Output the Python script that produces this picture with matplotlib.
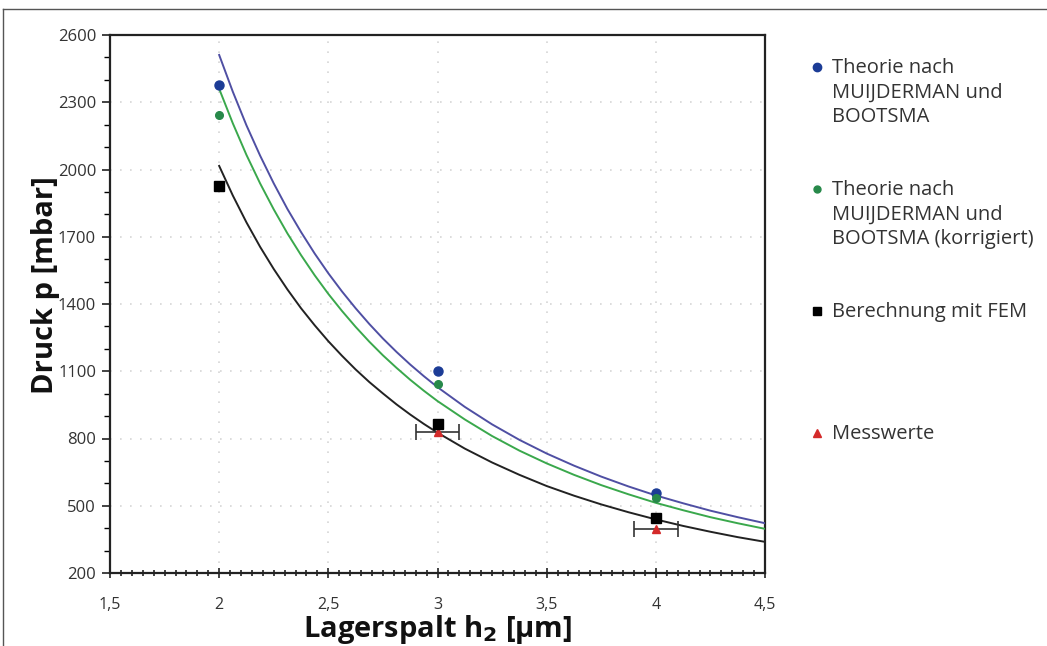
import matplotlib
matplotlib.use("Agg")
import matplotlib.pyplot as plt
from matplotlib.lines import Line2D
from matplotlib.ticker import MultipleLocator, FixedLocator, FuncFormatter

# ---- data ----
h_points = [2.0, 3.0, 4.0]
p_theorie = [2375, 1100, 558]
p_theorie_korr = [2243, 1045, 533]
p_fem = [1925, 865, 447]
h_mess = [3.0, 4.0]
p_mess = [830, 398]
h_mess_err = [0.1, 0.1]

y_ticks = [200, 500, 800, 1100, 1400, 1700, 2000, 2300, 2600]

h_curve = [2.0, 2.0625, 2.125, 2.1875, 2.25, 2.3125, 2.375, 2.4375, 2.5, 2.5625,
           2.625, 2.6875, 2.75, 2.8125, 2.875, 2.9375, 3.0, 3.125, 3.25,
           3.375, 3.5, 3.625, 3.75, 3.875, 4.0, 4.125, 4.25, 4.375, 4.5]
curve_theorie = [2511, 2347, 2197, 2062, 1938, 1824, 1721, 1625, 1537, 1456,
                 1381, 1311, 1246, 1186, 1130, 1078, 1029, 941, 863,
                 794, 733, 679, 630, 586, 546, 511, 478, 449, 422]
curve_theorie_korr = [2360, 2206, 2065, 1938, 1822, 1715, 1618, 1528, 1445, 1369,
                      1298, 1232, 1171, 1115, 1062, 1013, 967, 885, 811,
                      746, 689, 638, 592, 551, 513, 480, 449, 422, 397]
curve_fem = [2016, 1884, 1764, 1655, 1556, 1465, 1381, 1305, 1234, 1169,
             1108, 1052, 1001, 952, 907, 865, 826, 755, 693,
             638, 588, 545, 506, 471, 439, 410, 384, 360, 339]

legend_labels = ["Theorie nach\nMUIJDERMAN und\nBOOTSMA",
                 "Theorie nach\nMUIJDERMAN und\nBOOTSMA (korrigiert)",
                 "Berechnung mit FEM",
                 "Messwerte"]

plt.rcParams['font.family'] = ['Open Sans', 'DejaVu Sans']

fig = plt.figure(figsize=(10.47, 6.46), dpi=100)
ax = fig.add_axes([110/1047, 1-573/646, 655/1047, 538/646])

c_blue_line = '#4f4fa3'
c_green_line = '#3aa84c'
c_black_line = '#222222'
c_blue = '#1c3c96'
c_green = '#27894a'
c_red = '#d42a2a'

ax.plot(h_curve, curve_theorie, color=c_blue_line, lw=1.4, zorder=3)
ax.plot(h_curve, curve_theorie_korr, color=c_green_line, lw=1.4, zorder=3)
ax.plot(h_curve, curve_fem, color=c_black_line, lw=1.4, zorder=3)

ax.plot(h_points, p_theorie, 'o', color=c_blue, ms=6.5, zorder=5)
ax.plot(h_points, p_theorie_korr, 'o', color=c_green, ms=5.5, zorder=5)
ax.errorbar(h_mess, p_mess, xerr=h_mess_err, fmt='^', color=c_red, ms=6,
            ecolor='#333333', elinewidth=1.2, capsize=6, capthick=1.2, zorder=4)
ax.plot(h_points, p_fem, 's', color='black', ms=7, zorder=6)

ax.set_xlim(1.5, 4.5)
ax.set_ylim(200, 2600)
ax.xaxis.set_major_locator(MultipleLocator(0.5))
ax.xaxis.set_minor_locator(MultipleLocator(0.05))
ax.yaxis.set_major_locator(FixedLocator(y_ticks))
ax.yaxis.set_minor_locator(MultipleLocator(100))
ax.xaxis.set_major_formatter(FuncFormatter(lambda v, p: ('%g' % v).replace('.', ',')))

ax.tick_params(axis='x', which='both', direction='inout', length=7, width=1.2,
               labelsize=11.5, colors='#222222', pad=14)
ax.tick_params(axis='x', which='minor', length=5)
ax.tick_params(axis='y', which='major', direction='out', length=6, width=1.2,
               labelsize=12, colors='#222222', pad=4)
ax.tick_params(axis='y', which='minor', direction='out', length=4, width=1.0)
for lbl in ax.get_xticklabels() + ax.get_yticklabels():
    lbl.set_color('#333333')

for s in ax.spines.values():
    s.set_linewidth(1.6)
    s.set_color('#222222')

ax.grid(True, which='major', color='#d6d6d6', linestyle=(0, (1, 5)), lw=1.2)
ax.set_axisbelow(True)

ax.set_xlabel('Lagerspalt h$_\\mathbf{2}$ [µm]', fontsize=21, fontweight='bold',
              color='#111111', labelpad=0)
ax.set_ylabel('Druck p [mbar]', fontsize=21, fontweight='bold', color='#111111')
ax.yaxis.set_label_coords(-0.076, 0.535)

# legend (manual, outside the axes)
leg_handles = [('o', c_blue, 6), ('o', c_green, 5), ('s', 'black', 6), ('^', c_red, 6)]
leg_y = [67, 189, 311, 433]
for (m, c, ms), lab, y in zip(leg_handles, legend_labels, leg_y):
    fig.add_artist(Line2D([817/1047], [1 - y/646], transform=fig.transFigure,
                          marker=m, color=c, ms=ms, ls='none'))
    fig.text(832/1047, 1 - (y - 9)/646, lab, fontsize=14.5, color='#333333',
             va='top', ha='left', linespacing=1.3)

# outer frame (left and top edges)
fig.add_artist(Line2D([3/1047, 3/1047], [0, 1 - 9/646], transform=fig.transFigure,
                      color='#555555', lw=1))
fig.add_artist(Line2D([3/1047, 1], [1 - 9/646, 1 - 9/646], transform=fig.transFigure,
                      color='#555555', lw=1))

fig.savefig('out.png', dpi=100)
